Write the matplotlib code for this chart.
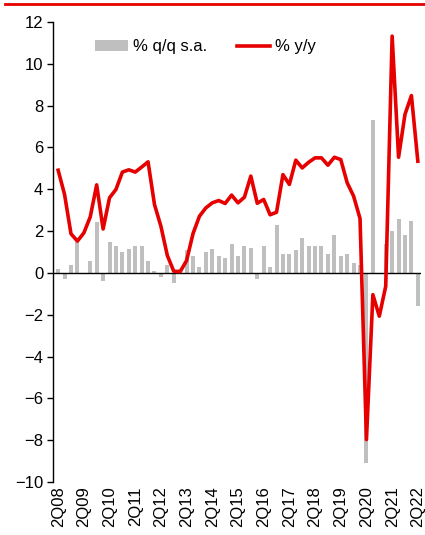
import matplotlib
matplotlib.use("Agg")
import matplotlib.pyplot as plt
from matplotlib.lines import Line2D
import numpy as np

plt.rcParams['font.family'] = ['Liberation Sans', 'DejaVu Sans']

# quarters 2Q08 .. 2Q22
quarters = [f"{q}Q{y % 100:02d}" for y in range(2008, 2023) for q in (1, 2, 3, 4)][1:-2]

qq_sa = [0.19, -0.29, 0.40, 1.50, 0.0, 0.59, 2.41, -0.40, 1.50, 1.29,
         0.99, 1.12, 1.29, 1.29, 0.59, 0.10, -0.19, 0.40, -0.48, 0.20,
         1.08, 0.80, 0.30, 0.99, 1.12, 0.80, 0.69, 1.39, 0.80, 1.29,
         1.20, -0.29, 1.29, 0.29, 2.29, 0.89, 0.89, 1.10, 1.69, 1.29,
         1.29, 1.31, 0.91, 1.79, 0.80, 0.91, 0.49, 0.40, -9.09, 7.30,
         0.0, 1.40, 2.01, 2.58, 1.79, 2.50, -1.59]

yy = [4.91, 3.75, 1.87, 1.52, 1.91, 2.68, 4.21, 2.10, 3.59, 3.99,
      4.82, 4.93, 4.82, 5.06, 5.31, 3.27, 2.23, 0.83, 0.08, 0.06,
      0.59, 1.88, 2.71, 3.11, 3.35, 3.46, 3.32, 3.72, 3.35, 3.62,
      4.63, 3.33, 3.51, 2.78, 2.90, 4.70, 4.23, 5.39, 5.02, 5.29,
      5.50, 5.50, 5.15, 5.53, 5.42, 4.31, 3.67, 2.60, -7.97, -1.04,
      -2.07, -0.64, 11.32, 5.53, 7.58, 8.48, 5.34]

x = np.arange(len(quarters))

fig = plt.figure(figsize=(4.25, 5.35), dpi=100)
ax = fig.add_axes([0.1247, 0.099, 0.866, 0.860])

bars = ax.bar(x, qq_sa, width=0.62, color='#BFBFBF', label='% q/q s.a.', zorder=2)
ax.axhline(0, color='black', lw=1.0, zorder=3)
line, = ax.plot(x, yy, color='#E60000', lw=2.6, label='% y/y', zorder=4)

ax.set_xlim(-0.8, 56.5)
ax.set_ylim(-10, 12)
ax.set_yticks(np.arange(-10, 13, 2))
ax.set_xticks(x[::4])
ax.set_xticklabels(quarters[::4], rotation=90)
ax.tick_params(axis='x', length=0, pad=3, labelsize=12)
ax.tick_params(axis='y', length=4, width=1, labelsize=12, pad=3)

for s in ['top', 'right', 'bottom']:
    ax.spines[s].set_visible(False)
ax.spines['left'].set_linewidth(1.0)

ax.legend(handles=[bars, line], loc='upper left', bbox_to_anchor=(0.113, 0.962),
          ncol=2, frameon=False, fontsize=12, handlelength=2.0,
          handletextpad=0.3, columnspacing=1.8, borderpad=0, borderaxespad=0)

# red rule at the top of the figure
fig.add_artist(Line2D([5 / 425, 1.0], [1 - 4 / 535, 1 - 4 / 535],
                      color='#E60000', lw=2.0, transform=fig.transFigure))

fig.savefig('out.png', dpi=100)
